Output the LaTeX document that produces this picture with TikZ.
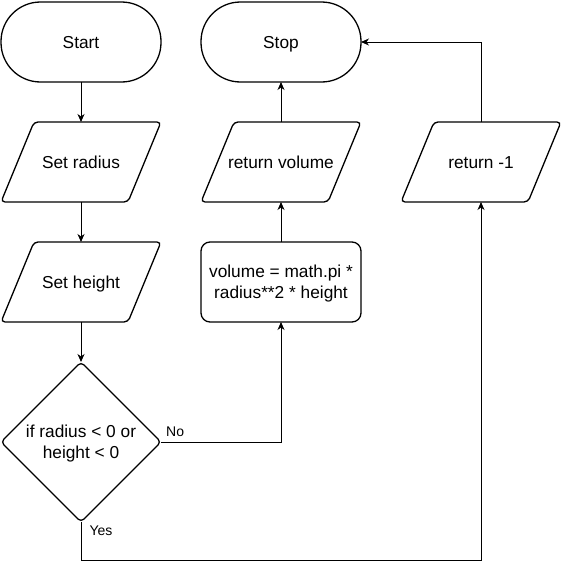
\documentclass[tikz,border=0pt]{standalone}
\usepackage{fontspec}
\setmainfont{Liberation Sans}
\usetikzlibrary{arrows.meta,calc,shapes.geometric}
\tikzset{
  shapeline/.style={line width=1.3pt},
  txt/.style={font=\fontsize{17.3}{21}\selectfont, align=center},
  oneline/.style={text height=16pt, text depth=3.6pt},
  term/.style={txt, oneline, shapeline, draw, rounded corners=39.5pt, minimum width=160pt, minimum height=80pt, outer sep=0pt},
  procbox/.style={txt, text depth=0pt, shapeline, draw, rounded corners=9pt, minimum width=160pt, minimum height=80pt, outer sep=0pt, inner sep=0pt},
  iobox/.style={txt, oneline, minimum width=160pt, minimum height=80pt, outer sep=0pt},
  decbox/.style={txt, text depth=0pt, shapeline, draw, diamond, aspect=1, rounded corners=4pt, minimum width=160pt, minimum height=160pt, inner sep=0pt, outer sep=0pt},
  conn/.style={line width=0.9pt, -{Stealth[length=8pt,width=7pt,inset=2.5pt]}},
  lbl/.style={font=\fontsize{14}{17}\selectfont, inner sep=0pt}
}
\newcommand\drawio[1]{\draw[shapeline, rounded corners=4pt] ($(#1.north west)+(33,0)$) -- (#1.north east) -- ($(#1.south east)-(33,0)$) -- (#1.south west) -- cycle;}
\begin{document}
\begin{tikzpicture}[x=1pt,y=-1pt]
\useasboundingbox (0,0) rectangle (562,570);
\node[term] (start) at (81,42) {Start};
\node[term] (stop) at (281,42) {Stop};
\node[iobox] (radius) at (81,162) {Set radius};
\node[iobox] (height) at (81,282) {Set height};
\node[iobox] (retvol) at (281,162) {return volume};
\node[iobox] (retneg) at (481,162) {return -1};
\drawio{radius}
\drawio{height}
\drawio{retvol}
\drawio{retneg}
\node[procbox] (vol) at (281,282) {volume = math.pi *\\radius**2 * height};
\node[decbox] (dec) at (81,442) {if radius < 0 or\\height < 0};
\coordinate (yc) at (81,560);
\draw[conn] (start) -- (radius);
\draw[conn] (radius) -- (height);
\draw[conn] (height) -- (dec);
\draw[conn] (dec.east) -| (vol.south);
\draw[conn] (vol) -- (retvol);
\draw[conn] (retvol) -- (stop);
\draw[conn] (dec.south) -- (yc) -| (retneg.south);
\draw[conn] (retneg.north) |- (stop.east);
\node[lbl, anchor=west] (nolbl) at (166,432) {No};
\node[lbl] (yeslbl) at (101,531) {Yes};
\end{tikzpicture}
\end{document}
